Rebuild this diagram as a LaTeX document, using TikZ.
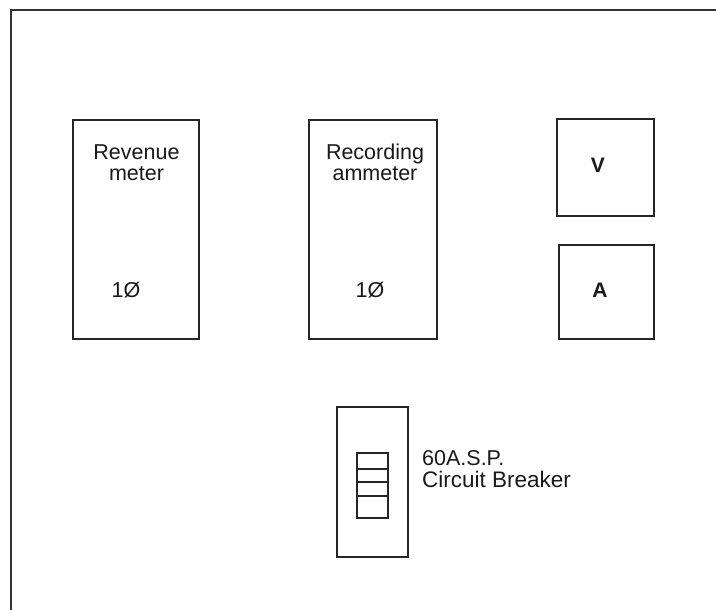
\documentclass[tikz,border=0pt]{standalone}
\usepackage{fontspec}
\setmainfont{Liberation Sans}
\begin{document}
\begin{tikzpicture}[x=1pt,y=-1pt,
  boxline/.style={draw=black!85,line width=1.5pt},
  lbl/.style={font=\fontsize{21.5}{21}\selectfont,inner sep=0pt,anchor=base,text=black!90},
  lblb/.style={lbl,font=\fontsize{21}{21}\selectfont\bfseries}]
\useasboundingbox (0,0) rectangle (716,610);
% outer frame (open at right and bottom)
\coordinate (fbl) at (10.5,612);
\coordinate (ftl) at (10.5,10.5);
\coordinate (ftr) at (718,10.5);
\draw[line width=2pt,draw=black!80] (fbl) -- (ftl) -- (ftr);
% revenue meter
\node[boxline,minimum width=126pt,minimum height=219pt,inner sep=0pt] (rev) at (136,229.5) {};
\node[lbl] (revt1) at (136.5,160) {Revenue};
\node[lbl] (revt2) at (136.5,180) {meter};
\node[lbl] (revp) at (126,297) {1Ø};
% recording ammeter
\node[boxline,minimum width=128pt,minimum height=219pt,inner sep=0pt] (rec) at (373,229.5) {};
\node[lbl] (rect1) at (375,160) {Recording};
\node[lbl] (rect2) at (375,181) {ammeter};
\node[lbl] (recp) at (370,297) {1Ø};
% V and A meters
\node[boxline,minimum width=97pt,minimum height=97pt,inner sep=0pt] (vb) at (605.5,167.5) {};
\node[lblb] (vt) at (598,172) {V};
\node[boxline,minimum width=95pt,minimum height=94pt,inner sep=0pt] (ab) at (606.5,292) {};
\node[lblb] (at) at (600,297) {A};
% circuit breaker
\node[boxline,minimum width=71pt,minimum height=150pt,inner sep=0pt] (cb) at (372.5,482) {};
\node[draw=black!85,line width=1.4pt,minimum width=31pt,minimum height=65pt,inner sep=0pt] (cbi) at (372.5,485.5) {};
\coordinate (l1a) at (357,469); \coordinate (l1b) at (388,469);
\coordinate (l2a) at (357,482); \coordinate (l2b) at (388,482);
\coordinate (l3a) at (357,496); \coordinate (l3b) at (388,496);
\draw[line width=1.4pt,draw=black!85] (l1a) -- (l1b) (l2a) -- (l2b) (l3a) -- (l3b);
\node[lbl,anchor=base west] (cbt1) at (422,465) {60A.S.P.};
\node[lbl,anchor=base west,font=\fontsize{22.5}{21}\selectfont] (cbt2) at (422,487) {Circuit Breaker};
\end{tikzpicture}
\end{document}
